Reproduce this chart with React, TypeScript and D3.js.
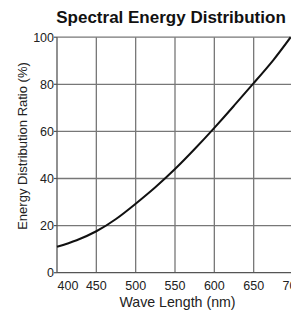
import React from "react";
import * as d3 from "d3";

const wavelengths = [400, 425, 450, 475, 500, 525, 550, 575, 600, 625, 650, 675, 697];
const ratios = [11.0, 13.8, 17.6, 22.8, 29.3, 36.3, 44.0, 52.5, 61.5, 70.9, 80.5, 90.3, 100];
const xTicks = [400, 450, 500, 550, 600, 650, 700];
const yTicks = [0, 20, 40, 60, 80, 100];

const W = 291;
const H = 313;

export default function App() {
  const x = d3.scaleLinear().domain([400, 700]).range([57, 293]);
  const y = d3.scaleLinear().domain([0, 100]).range([272.7, 37.2]);
  const pts = wavelengths.map((w, i) => [w, ratios[i]] as [number, number]);
  const line = d3
    .line<[number, number]>()
    .x((d) => x(d[0]))
    .y((d) => y(d[1]))
    .curve(d3.curveNatural);
  const font = "'Liberation Sans', Arial, sans-serif";
  return (
    <svg
      width={W}
      height={H}
      style={{ position: "absolute", left: 0, top: 0, background: "#fff" }}
      fontFamily={font}
    >
      <rect width={W} height={H} fill="#fff" />
      <text x={171} y={23} textAnchor="middle" fontSize={17} fontWeight="bold" fill="#111">
        Spectral Energy Distribution
      </text>
      {xTicks.slice(1).map((t) => (
        <line key={"vx" + t} x1={x(t)} x2={x(t)} y1={y(0)} y2={y(100)} stroke="#777" strokeWidth={1.3} />
      ))}
      {yTicks.slice(1).map((t) => (
        <line key={"hy" + t} x1={x(400)} x2={x(700)} y1={y(t)} y2={y(t)} stroke="#777" strokeWidth={1.3} />
      ))}
      <line x1={x(400)} x2={x(400)} y1={y(0)} y2={y(100)} stroke="#555" strokeWidth={1.3} />
      <line x1={x(400)} x2={x(700)} y1={y(0)} y2={y(0)} stroke="#555" strokeWidth={1.3} />
      {yTicks.map((t) => (
        <g key={"yt" + t}>
          <line x1={x(400) - 3} x2={x(400)} y1={y(t)} y2={y(t)} stroke="#555" strokeWidth={1.2} />
          <text x={54} y={y(t)} dy="0.35em" textAnchor="end" fontSize={12.5} fill="#222">
            {t}
          </text>
        </g>
      ))}
      {xTicks.map((t, i) => (
        <text
          key={"xt" + t}
          x={i === 0 ? x(t) + 11 : x(t)}
          y={289.5}
          textAnchor="middle"
          fontSize={12.5}
          fill="#222"
        >
          {t}
        </text>
      ))}
      <path d={line(pts) || ""} fill="none" stroke="#111" strokeWidth={2} />
      <text x={177.5} y={307} textAnchor="middle" fontSize={14.2} fill="#222">
        Wave Length (nm)
      </text>
      <text
        transform={`translate(26.5,146) rotate(-90)`}
        textAnchor="middle"
        fontSize={13}
        fill="#222"
      >
        Energy Distribution Ratio (%)
      </text>
    </svg>
  );
}
